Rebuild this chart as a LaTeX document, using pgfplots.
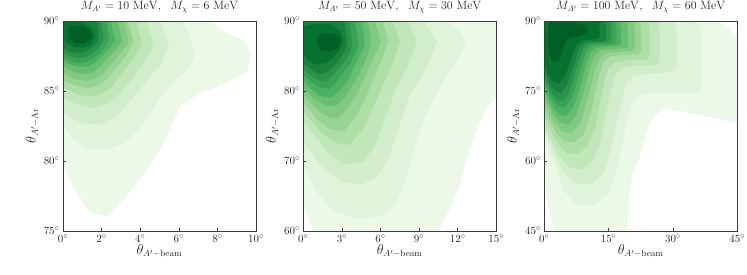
\documentclass[border=0pt]{standalone}
\usepackage{pgfplots}
\pgfplotsset{compat=1.18}
\definecolor{g1}{RGB}{236,248,232}
\definecolor{g2}{RGB}{224,243,219}
\definecolor{g3}{RGB}{209,237,203}
\definecolor{g4}{RGB}{192,230,185}
\definecolor{g5}{RGB}{172,222,166}
\definecolor{g6}{RGB}{151,212,147}
\definecolor{g7}{RGB}{128,201,128}
\definecolor{g8}{RGB}{103,190,112}
\definecolor{g9}{RGB}{76,177,99}
\definecolor{g10}{RGB}{56,162,86}
\definecolor{g11}{RGB}{41,145,74}
\definecolor{g12}{RGB}{24,129,61}
\definecolor{g13}{RGB}{6,114,48}
\definecolor{g14}{RGB}{0,94,38}
\definecolor{frame}{RGB}{60,60,60}
\pgfplotsset{kde/.style={
  scale only axis, width=193pt, height=210pt,
  axis on top, no markers,
  tick pos=left, tick align=inside, major tick length=3pt,
  axis line style={draw=frame, line width=0.8pt},
  every tick/.style={frame, line width=0.6pt},
  xticklabel={$\pgfmathprintnumber{\tick}^\circ$},
  yticklabel={$\pgfmathprintnumber{\tick}^\circ$},
  ticklabel style={font=\fontsize{11}{13}\selectfont, text=black!85},
  xlabel={$\theta_{A'-\mathrm{beam}}$},
  ylabel={$\theta_{A'-\mathrm{Ar}}$},
  label style={font=\fontsize{13.5}{16}\selectfont, text=black!85},
  xlabel style={at={(axis description cs:0.5,-0.095)}, anchor=center},
  ylabel style={at={(axis description cs:-0.16,0.5)}, anchor=center},
  title style={at={(axis description cs:0.5,1.037)}, anchor=center, font=\fontsize{11.5}{13}\selectfont, text=black!85},
}}
\begin{document}
\begin{tikzpicture}
\useasboundingbox (0,0) rectangle (747pt,274pt);
% ---------------- panel 1 ----------------
\begin{axis}[kde, at={(63pt,43pt)}, anchor=south west,
  xmin=0, xmax=10, ymin=75, ymax=90,
  xtick={0,2,4,6,8,10}, ytick={75,80,85,90},
  title={$M_{A'} = 10\ \mathrm{MeV},\ \ M_{\chi} = 6\ \mathrm{MeV}$}]
\addplot[fill=g1, draw=none] coordinates {(-0.5,91) (6.9,91) (8.13,89.4) (9.43,88.55) (9.77,87.6) (9.52,86.3) (8.31,85.45) (6.93,84.7) (6.15,84.0) (5.8,83.07) (5.2,81.2) (4.42,79.5) (3.47,77.8) (2.35,76.0) (1.31,76.4) (0.53,78.1) (0.05,79.7) (-0.5,80.6)};
\addplot[fill=g2, draw=none] coordinates {(-0.5,91) (5.9,91) (6.5,89.0) (6.86,87.7) (6.5,86.6) (5.6,85.5) (4.9,84.2) (4.2,82.7) (3.3,81.4) (2.3,80.8) (1.3,80.8) (0.5,81.6) (0,82.6) (-0.5,83.2)};
\addplot[fill=g3, draw=none] coordinates {(-0.5,91) (4.8,91) (5.2,89.3) (5.47,88.2) (5.1,87.0) (4.4,85.8) (3.6,84.5) (2.8,83.2) (1.9,82.6) (1.0,82.7) (0.4,83.1) (0,83.6) (-0.5,84)};
\addplot[fill=g4, draw=none] coordinates {(-0.5,91) (4.1,91) (4.45,89.4) (4.7,88.3) (4.3,87.2) (3.7,86.1) (3.0,84.9) (2.3,84.1) (1.6,83.8) (0.8,84.0) (0,84.6) (-0.5,85)};
\addplot[fill=g5, draw=none] coordinates {(-0.5,91) (3.6,91) (3.9,89.4) (4.09,88.4) (3.7,87.4) (3.2,86.5) (2.6,85.4) (2.0,84.8) (1.4,84.6) (0.7,84.8) (0,85.3) (-0.5,85.6)};
\addplot[fill=g6, draw=none] coordinates {(-0.5,91) (3.2,91) (3.5,89.4) (3.66,88.5) (3.3,87.6) (2.85,86.8) (2.3,85.9) (1.8,85.4) (1.25,85.2) (0.6,85.4) (0,85.8) (-0.5,86.1)};
\addplot[fill=g7, draw=none] coordinates {(-0.5,91) (2.95,91) (3.25,89.5) (3.4,88.55) (3.05,87.8) (2.6,87.1) (2.1,86.3) (1.65,85.85) (1.15,85.7) (0.55,85.9) (0,86.3) (-0.5,86.6)};
\addplot[fill=g8, draw=none] coordinates {(-0.5,91) (2.65,91) (2.9,89.5) (3.06,88.6) (2.75,87.95) (2.35,87.4) (1.9,86.7) (1.5,86.3) (1.05,86.2) (0.5,86.4) (0,86.8) (-0.5,87.1)};
\addplot[fill=g9, draw=none] coordinates {(-0.5,91) (2.35,91) (2.55,89.5) (2.71,88.6) (2.45,88.1) (2.1,87.6) (1.7,87.05) (1.35,86.75) (0.95,86.7) (0.45,86.85) (0,87.2) (-0.5,87.5)};
\addplot[fill=g10, draw=none] coordinates {(-0.5,91) (2.1,91) (2.3,89.6) (2.4,88.65) (2.2,88.2) (1.9,87.7) (1.55,87.3) (1.2,87.05) (0.85,87.0) (0.4,87.15) (0,87.5) (-0.5,87.8)};
\addplot[fill=g11, draw=none] coordinates {(-0.5,91) (1.85,91) (2.0,89.6) (2.1,88.7) (1.95,88.3) (1.7,87.9) (1.4,87.55) (1.1,87.4) (0.75,87.35) (0.35,87.5) (0,87.8) (-0.5,88.1)};
\addplot[fill=g12, draw=none] coordinates {(-0.5,91) (1.65,91) (1.8,89.6) (1.85,88.75) (1.7,88.35) (1.45,88.05) (1.15,87.8) (0.8,87.7) (0.4,87.8) (0,88.1) (-0.5,88.4)};
\addplot[fill=g13, draw=none] coordinates {(0.0,89.9) (0.9,89.9) (1.45,89.55) (1.65,88.9) (1.45,88.35) (1.05,88.1) (0.55,88.15) (0.15,88.45) (-0.1,89.1)};
\addplot[fill=g14, draw=none] coordinates {(0.3,89.6) (1.0,89.65) (1.45,89.2) (1.45,88.75) (1.1,88.4) (0.6,88.4) (0.3,88.8)};
\end{axis}
% ---------------- panel 2 ----------------
\begin{axis}[kde, at={(303.3pt,43pt)}, anchor=south west,
  xmin=0, xmax=15, ymin=60, ymax=90,
  xtick={0,3,6,9,12,15}, ytick={60,70,80,90},
  title={$M_{A'} = 50\ \mathrm{MeV},\ \ M_{\chi} = 30\ \mathrm{MeV}$}]
\addplot[fill=g1, draw=none] coordinates {(-0.5,91) (15.5,91) (15.5,80.2) (14.27,77.6) (13.5,74.7) (12.7,70.4) (12.2,66.6) (11.4,63.3) (10.5,60) (10.3,59) (0.99,59) (0,63.6) (-0.5,66)};
\addplot[fill=g2, draw=none] coordinates {(-0.5,91) (10.5,91) (11.3,89.8) (12.3,88.2) (12.7,86.9) (12.2,85.3) (11.2,82.4) (10.3,79.5) (9.5,76.5) (8.9,73.5) (8.3,69.5) (7.7,66) (7.0,63.3) (5.8,62) (4.0,61.8) (2.4,62.8) (1.1,65.5) (0.3,68.5) (-0.5,71)};
\addplot[fill=g3, draw=none] coordinates {(-0.5,91) (8.9,91) (9.6,89.3) (10.4,87.1) (9.6,83.3) (8.3,79.5) (7.4,74.7) (6.6,70.4) (5.7,67.6) (4.4,66.6) (2.9,67.1) (1.3,69.5) (0,72.8) (-0.5,73.8)};
\addplot[fill=g4, draw=none] coordinates {(-0.5,91) (7.7,91) (8.3,89.2) (8.8,87.1) (8.2,83.8) (7.1,80) (6.4,76.1) (5.6,72.3) (4.7,70) (3.4,69.5) (2.1,70.9) (0.8,73.8) (0,75.7) (-0.5,76.5)};
\addplot[fill=g5, draw=none] coordinates {(-0.5,91) (6.6,91) (7.1,89.2) (7.5,87.1) (7.0,84.2) (6.2,80.9) (5.4,77.6) (4.7,74.7) (3.6,72.3) (2.5,72.6) (1.3,74.2) (0,77.1) (-0.5,77.8)};
\addplot[fill=g6, draw=none] coordinates {(-0.5,91) (5.9,91) (6.3,89.2) (6.6,87) (6.1,84.5) (5.4,81.6) (4.8,78.8) (4.0,76.1) (3.1,74.2) (2.1,74.5) (1.0,76.1) (0,78.5) (-0.5,79.1)};
\addplot[fill=g7, draw=none] coordinates {(-0.5,91) (5.3,91) (5.7,89.2) (6.0,86.9) (5.4,84.5) (4.8,82.1) (4.2,79.7) (3.5,77.6) (2.7,76.1) (1.8,76.4) (0.9,77.6) (0,79.5) (-0.5,80.1)};
\addplot[fill=g8, draw=none] coordinates {(-0.5,91) (4.8,91) (5.1,89.2) (5.3,86.9) (4.9,84.7) (4.4,82.6) (3.8,80.7) (3.2,79.0) (2.5,77.8) (1.7,78.0) (0.8,79.0) (0,80.4) (-0.5,81)};
\addplot[fill=g9, draw=none] coordinates {(-0.5,91) (4.3,91) (4.6,89.1) (4.8,86.7) (4.4,85.0) (3.9,83.3) (3.5,81.6) (2.9,80.2) (2.2,79.1) (1.4,79.2) (0.65,80.2) (0,81.4) (-0.5,82)};
\addplot[fill=g10, draw=none] coordinates {(-0.5,91) (3.8,91) (4.1,89.1) (4.3,86.7) (4.0,85.2) (3.6,83.8) (3.1,82.6) (2.6,81.4) (2.0,80.3) (1.3,80.5) (0.5,81.4) (0,82.3) (-0.5,82.9)};
\addplot[fill=g11, draw=none] coordinates {(-0.5,91) (3.4,91) (3.65,89.1) (3.8,86.7) (3.6,85.4) (3.2,84.2) (2.8,83.3) (2.3,82.3) (1.8,81.4) (1.2,81.5) (0.5,82.3) (0,83.2) (-0.5,83.8)};
\addplot[fill=g12, draw=none] coordinates {(-0.5,91) (3.0,91) (3.25,89.1) (3.4,86.7) (3.2,85.7) (2.9,84.7) (2.5,83.8) (1.9,82.8) (1.3,82.4) (0.65,83.0) (0,83.9) (-0.5,84.5)};
\addplot[fill=g13, draw=none] coordinates {(0.1,89.3) (1.0,89.6) (2.1,89.5) (2.8,88.7) (3.1,87.4) (2.9,86.1) (2.4,84.9) (1.8,84.0) (1.0,83.8) (0.3,84.4) (0,85.5) (-0.2,87.5)};
\addplot[fill=g14, draw=none] coordinates {(1.0,87.4) (1.4,88.2) (2.3,88.2) (2.9,87.4) (2.75,86.2) (2.1,85.6) (1.35,85.8)};
\end{axis}
% ---------------- panel 3 ----------------
\begin{axis}[kde, at={(544.3pt,43pt)}, anchor=south west,
  xmin=0, xmax=45, ymin=45, ymax=90,
  xtick={0,15,30,45}, ytick={45,60,75,90},
  title={$M_{A'} = 100\ \mathrm{MeV},\ \ M_{\chi} = 60\ \mathrm{MeV}$}]
\addplot[fill=g1, draw=none] coordinates {(-1,91) (37,91) (40,90.2) (41.3,89.6) (43,88.6) (44.1,87.4) (46,86) (46,68) (44.1,68.3) (39.8,69.2) (33.5,70.3) (28.1,71.2) (26.1,69.9) (24.2,67.1) (22.2,60.6) (20.7,57.8) (19.9,53.5) (19.7,49.2) (19.3,45) (19.3,44) (2.5,44) (2.3,45) (1.0,50) (0,56.4) (-1,58)};
\addplot[fill=g2, draw=none] coordinates {(-1,91) (34.5,91) (35.9,89.8) (36.7,87.8) (36.7,76.4) (35.9,74.6) (30.4,74.6) (25,74.6) (22,74) (20.5,72.5) (19.2,69) (18.2,63.5) (17,58.5) (14.8,52.8) (11.7,50.6) (7.8,50.3) (4.7,53.5) (2.3,59.2) (0.4,63.5) (-1,65)};
\addplot[fill=g3, draw=none] coordinates {(-1,91) (29,91) (30.3,89.8) (30.8,88) (30.8,80.4) (30.2,79.2) (25,78.7) (21,78.3) (19.3,77) (18.2,73.5) (16.8,68) (15.5,62.5) (13.8,57.5) (11,55) (7.5,55) (4.5,57.5) (2,62) (0.5,65.5) (-1,67)};
\addplot[fill=g4, draw=none] coordinates {(-1,91) (25.5,91) (26.6,89.6) (26.9,88) (26.9,81.6) (26.2,80.6) (21,80.4) (18.2,80) (16.5,78.5) (15.5,75) (14.4,70) (13.2,64.5) (11.3,60) (8.7,58.2) (6,58.5) (3.5,61) (1.5,64.5) (0,67.5) (-1,68.5)};
\addplot[fill=g5, draw=none] coordinates {(-1,91) (23.3,91) (24.3,89.6) (24.6,88) (24.6,82.6) (24,81.8) (19.5,81.6) (16.6,81.2) (15,80) (14,77) (13,72.5) (11.8,67) (10,63) (7.6,61.4) (5.2,61.8) (3,64) (1.2,67) (0,69.5) (-1,70.3)};
\addplot[fill=g6, draw=none] coordinates {(-1,91) (21.4,91) (22.3,89.6) (22.6,88) (22.6,83.6) (22,82.9) (18,82.7) (15.3,82.4) (13.8,81.2) (12.8,78.5) (11.8,74.5) (10.6,69.5) (9,65.5) (6.8,63.9) (4.6,64.3) (2.6,66.2) (1,69) (0,71.2) (-1,72)};
\addplot[fill=g7, draw=none] coordinates {(-1,91) (20,91) (20.8,89.6) (21.1,88.1) (21.1,84.2) (20.5,83.6) (16.8,83.4) (14.2,83.1) (12.8,82) (11.8,79.6) (10.8,76) (9.6,71.5) (8.1,67.7) (6.1,66) (4.1,66.4) (2.3,68.2) (0.9,70.8) (0,72.8) (-1,73.5)};
\addplot[fill=g8, draw=none] coordinates {(-1,91) (18.5,91) (19.2,89.6) (19.5,88.1) (19.5,84.8) (19,84.2) (15.6,84) (13.2,83.8) (11.8,82.8) (10.8,80.6) (9.9,77.4) (8.8,73.4) (7.4,69.8) (5.6,67.8) (3.7,68.3) (2.1,70) (0.8,72.4) (0,74.3) (-1,75)};
\addplot[fill=g9, draw=none] coordinates {(-1,91) (17,91) (17.6,89.6) (17.9,88.2) (17.9,85.3) (17.4,84.7) (14.4,84.5) (12.2,84.3) (10.9,83.4) (10,81.4) (9.1,78.6) (8.1,75) (6.8,71.6) (5.1,69.6) (3.3,70.1) (1.8,71.8) (0.7,74) (0,75.7) (-1,76.3)};
\addplot[fill=g10, draw=none] coordinates {(-1,91) (16,91) (16.5,89.6) (16.8,88.2) (16.8,85.6) (16.3,85) (13.4,84.85) (11.4,84.7) (10.1,83.9) (9.2,82) (8.4,79.5) (7.4,76.2) (6.2,73.2) (4.6,71.4) (3,71.9) (1.6,73.5) (0.6,75.6) (0,77) (-1,77.5)};
\addplot[fill=g11, draw=none] coordinates {(-1,91) (14.8,91) (15.3,89.6) (15.6,88.3) (15.6,86) (15.1,85.4) (12.4,85.25) (10.5,85.1) (9.3,84.3) (8.5,82.6) (7.7,80.4) (6.8,77.4) (5.7,74.6) (4.2,72.8) (2.7,73.3) (1.4,74.9) (0.5,76.8) (0,78) (-1,78.5)};
\addplot[fill=g12, draw=none] coordinates {(-1,91) (13.6,91) (14.1,89.7) (14.4,88.4) (14.4,86.3) (13.9,85.7) (11.4,85.55) (9.7,85.4) (8.5,84.7) (7.8,83.2) (7.1,81.2) (6.2,78.6) (5.2,76.2) (3.8,74.6) (2.4,75.1) (1.2,76.6) (0.4,78.4) (0,79.4) (-1,80)};
\addplot[fill=g13, draw=none] coordinates {(-1,91) (12.2,91) (12.7,89.7) (12.9,88.5) (12.9,86.7) (12.4,86.1) (10.2,85.95) (8.7,85.8) (7.6,85.1) (6.9,83.8) (6.3,82) (5.5,79.8) (4.6,77.9) (3.4,76.6) (2.1,77) (1.1,78.3) (0.35,80) (0,81) (-1,81.5)};
\addplot[fill=g14, draw=none] coordinates {(1.2,89.8) (7,89.8) (9.5,89.1) (10.3,88.2) (9.8,87.2) (7.5,86.6) (5.5,86.2) (4.6,85) (4,83) (3.3,81.5) (2.3,81.2) (1.5,82) (1,84) (0.8,87)};
\end{axis}
\end{tikzpicture}
\end{document}
